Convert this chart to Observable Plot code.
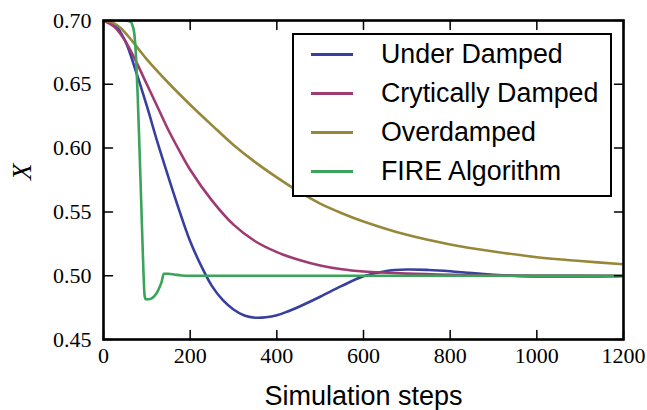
<!DOCTYPE html>
<html>
<head>
<meta charset="utf-8">
<script src="https://cdn.jsdelivr.net/npm/d3@7"></script>
<script src="https://cdn.jsdelivr.net/npm/@observablehq/plot@0.6"></script>
<style>
  html, body { margin: 0; padding: 0; background: #fff; }
  #wrap { position: relative; width: 647px; height: 410px; }
  #wrap svg g[aria-label="x-axis tick label"] text,
  #wrap svg g[aria-label="y-axis tick label"] text {
    font-family: 'Liberation Serif', 'DejaVu Serif', serif !important;
    font-size: 22px !important;
    fill: #000;
  }
  #legend { position: absolute; left: 292px; top: 33px; width: 316px; height: 160px;
            border: 2px solid #000; background: #fff; font-family: "Liberation Sans", Arial, sans-serif; }
  .row { position: absolute; left: 0; height: 30px; }
  .sw { position: absolute; left: 17px; top: 14px; width: 42px; height: 3px; }
  .lab { position: absolute; left: 87px; top: 0; white-space: nowrap; font-size: 26.8px; color: #000; line-height: 30px; }
</style>
</head>
<body>
<div id="wrap"></div>
<script>
// ---- data ----
const seriesNames = ["Under Damped", "Crytically Damped", "Overdamped", "FIRE Algorithm"];
const seriesColors = ["#373f9f", "#9f3a72", "#978839", "#3ba35a"];

const udSteps = [0,25,50,75,100,125,150,175,200,225,250,275,300,325,350,375,400,425,450,500,550,600,650,700,750,800,850,900,950,1000,1100,1200];
const udX     = [0.700,0.697,0.684,0.660,0.633,0.604,0.577,0.551,0.527,0.508,0.492,0.481,0.4735,0.4688,0.4671,0.4674,0.469,0.472,0.4755,0.4835,0.492,0.4995,0.5035,0.5048,0.5045,0.5035,0.502,0.5008,0.4999,0.4995,0.4994,0.4996];

const cdSteps = [0,25,50,75,100,125,150,175,200,250,300,350,400,450,500,550,600,700,800,900,1000,1200];
const cdX     = [0.700,0.695,0.684,0.668,0.650,0.632,0.614,0.598,0.583,0.559,0.540,0.527,0.5185,0.5125,0.508,0.505,0.5033,0.5016,0.5007,0.5003,0.5001,0.500];

const odSteps = [0,20,40,60,80,100,150,200,250,300,350,400,450,500,550,600,700,800,900,1000,1100,1200];
const odX     = [0.700,0.6985,0.694,0.6865,0.678,0.6695,0.651,0.634,0.618,0.6025,0.589,0.577,0.566,0.5565,0.549,0.5425,0.532,0.5245,0.519,0.5145,0.5115,0.509];

const fireSteps = [0,50,58,63,67,71,75,79,83,87,91,95,98,104,110,116,122,128,134,139,150,165,180,200,1200];
const fireX     = [0.700,0.700,0.6995,0.699,0.696,0.690,0.672,0.640,0.600,0.558,0.515,0.484,0.4815,0.4815,0.482,0.4835,0.486,0.490,0.495,0.5015,0.5015,0.5008,0.5002,0.500,0.500];

const xTicks = [0,200,400,600,800,1000,1200];
const yTicks = [0.45,0.50,0.55,0.60,0.65,0.70];
const xLabel = "Simulation steps";
const yLabel = "X";

(function () {
  const stepsList = [udSteps, cdSteps, odSteps, fireSteps];
  const valsList = [udX, cdX, odX, fireX];
  const smooth = [], fire = [];
  seriesNames.forEach((name, i) => {
    stepsList[i].forEach((s, j) => (i === 3 ? fire : smooth).push({series: name, step: s, x: valsList[i][j]}));
  });

  const W = 647, H = 410, mL = 103, mR = 24, mT = 20, mB = 71;
  const tickLen = 9;
  const serif = "'Liberation Serif', 'DejaVu Serif', serif";
  const sans = "'Liberation Sans', Arial, sans-serif";
  const xDom = [0, 1200], yDom = [0.45, 0.70];

  const baseOpts = {
    width: W, height: H,
    marginLeft: mL, marginRight: mR, marginTop: mT, marginBottom: mB,
    style: {background: "#fff", color: "#000"},
    x: {domain: xDom},
    y: {domain: yDom},
    color: {domain: seriesNames, range: seriesColors}
  };

  // first pass: obtain the scales to turn the tick length (px) into data units
  const probe = Plot.plot({...baseOpts, marks: [Plot.frame()]});
  const sx = probe.scale("x"), sy = probe.scale("y");
  const dxTick = Math.abs(sx.invert(mL + tickLen) - sx.invert(mL));
  const dyTick = Math.abs(sy.invert(H - mB - tickLen) - sy.invert(H - mB));

  // inward tick segments on all four sides
  const tickSegs = [];
  xTicks.forEach((v, i) => {
    tickSegs.push({id: "b" + i, px: v, py: yDom[0]}, {id: "b" + i, px: v, py: yDom[0] + dyTick});
    tickSegs.push({id: "t" + i, px: v, py: yDom[1]}, {id: "t" + i, px: v, py: yDom[1] - dyTick});
  });
  yTicks.forEach((v, i) => {
    tickSegs.push({id: "l" + i, px: xDom[0], py: v}, {id: "l" + i, px: xDom[0] + dxTick, py: v});
    tickSegs.push({id: "r" + i, px: xDom[1], py: v}, {id: "r" + i, px: xDom[1] - dxTick, py: v});
  });

  const chart = Plot.plot({
    ...baseOpts,
    marks: [
      Plot.line(smooth, {x: "step", y: "x", z: "series", stroke: "series", strokeWidth: 2.6,
                         curve: "catmull-rom", clip: true}),
      Plot.line(fire, {x: "step", y: "x", z: "series", stroke: "series", strokeWidth: 2.6,
                       curve: "monotone-x", clip: true}),
      Plot.line(tickSegs, {x: "px", y: "py", z: "id", stroke: "#000", strokeWidth: 1.5}),
      Plot.axisX({ticks: xTicks, tickSize: 0, tickPadding: 8, label: null, tickFormat: d3.format("d")}),
      Plot.axisY({ticks: yTicks, tickSize: 0, tickPadding: 12, label: null, tickFormat: d3.format(".2f")}),
      Plot.text([xLabel], {frameAnchor: "bottom", dy: 65, fontSize: 27, fontFamily: sans, fill: "#000"}),
      Plot.text([yLabel], {frameAnchor: "left", dx: -81, rotate: -90, fontSize: 27, fontFamily: serif, fontStyle: "italic", fill: "#000"}),
      Plot.frame({stroke: "#000", strokeWidth: 2.6})
    ]
  });

  const wrap = document.getElementById("wrap");
  wrap.appendChild(chart);

  // legend inside the plot area (upper right)
  const legend = document.createElement("div");
  legend.id = "legend";
  seriesNames.forEach((name, i) => {
    const row = document.createElement("div");
    row.className = "row";
    row.style.top = (4 + i * 39) + "px";
    row.style.width = "100%";
    const sw = document.createElement("span");
    sw.className = "sw";
    sw.style.background = seriesColors[i];
    const lab = document.createElement("span");
    lab.className = "lab";
    lab.textContent = name;
    row.appendChild(sw);
    row.appendChild(lab);
    legend.appendChild(row);
  });
  wrap.appendChild(legend);
})();
</script>
</body>
</html>
